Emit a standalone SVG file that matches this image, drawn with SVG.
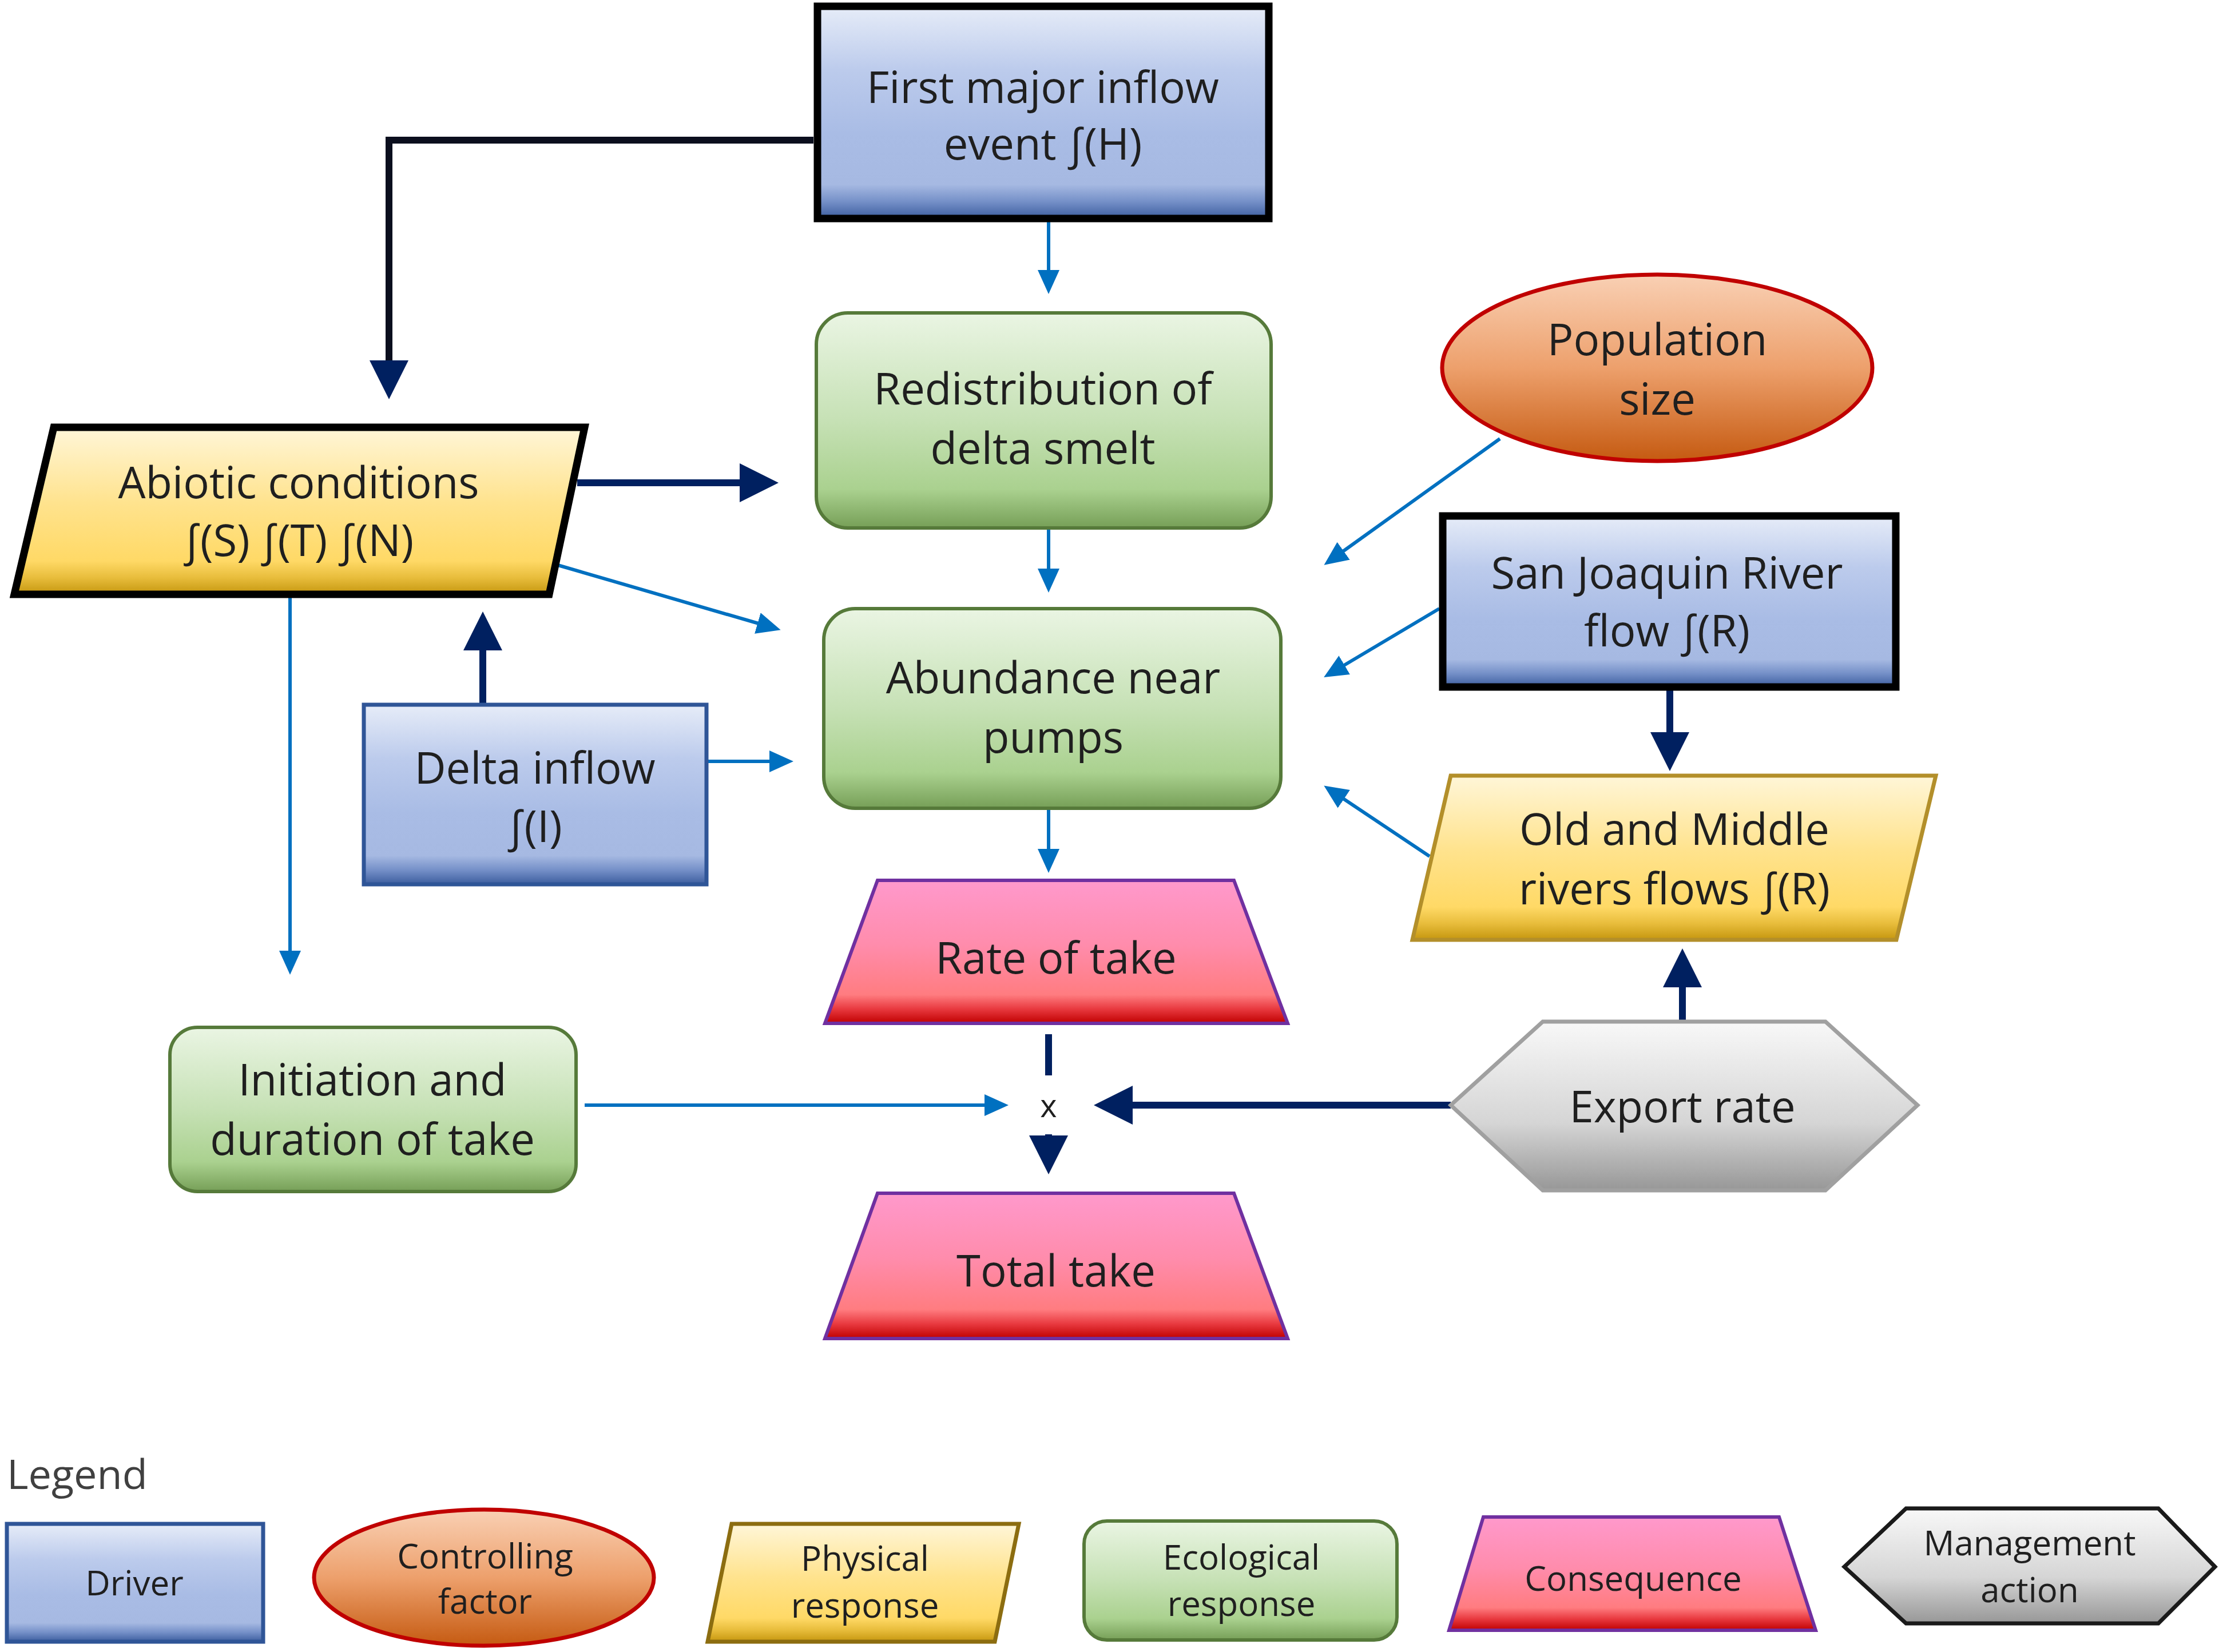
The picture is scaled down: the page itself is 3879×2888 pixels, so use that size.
<svg xmlns="http://www.w3.org/2000/svg" width="3879" height="2888" viewBox="0 0 3879 2888">
<style>
text{font-family:"Open Sans","Liberation Sans",sans-serif;fill:#1f1f1f;text-anchor:middle}
.t{font-size:76px}
.lg{font-size:60px}
.blue{stroke:#0070c0;stroke-width:6;fill:none;marker-end:url(#ab)}
.navy{stroke:#002060;stroke-width:12;fill:none;marker-end:url(#an)}
.drv{fill:url(#gBlue)}
.phy{fill:url(#gYel)}
.eco{fill:url(#gGrn);stroke:#567a3a;stroke-width:6}
.con{fill:url(#gPink);stroke:#7030a0;stroke-width:6}
.ctl{fill:url(#gOr);stroke:#c00000;stroke-width:7}
.mgt{fill:url(#gGray)}
.thick{stroke:#000;stroke-width:13}
</style>
<defs>
<linearGradient id="gBlue" x1="0" y1="0" x2="0" y2="1">
<stop offset="0" stop-color="#e6ecf8"/><stop offset="0.3" stop-color="#bccbec"/><stop offset="0.6" stop-color="#a9bce5"/><stop offset="0.84" stop-color="#a6b9e2"/><stop offset="0.92" stop-color="#7590c8"/><stop offset="1" stop-color="#3c5d9e"/>
</linearGradient>
<linearGradient id="gYel" x1="0" y1="0" x2="0" y2="1">
<stop offset="0" stop-color="#fff6d8"/><stop offset="0.45" stop-color="#ffe38e"/><stop offset="0.8" stop-color="#ffd966"/><stop offset="0.9" stop-color="#e8bd3c"/><stop offset="1" stop-color="#c5960e"/>
</linearGradient>
<linearGradient id="gGrn" x1="0" y1="0" x2="0" y2="1">
<stop offset="0" stop-color="#eaf5e3"/><stop offset="0.5" stop-color="#c6e1b5"/><stop offset="0.82" stop-color="#aad18f"/><stop offset="1" stop-color="#769f57"/>
</linearGradient>
<linearGradient id="gPink" x1="0" y1="0" x2="0" y2="1">
<stop offset="0" stop-color="#ff99cc"/><stop offset="0.45" stop-color="#ff8cac"/><stop offset="0.8" stop-color="#ff7c80"/><stop offset="0.9" stop-color="#e8393f"/><stop offset="1" stop-color="#c00000"/>
</linearGradient>
<linearGradient id="gOr" x1="0" y1="0" x2="0" y2="1">
<stop offset="0" stop-color="#f9d0b4"/><stop offset="0.5" stop-color="#eda06c"/><stop offset="1" stop-color="#c55a11"/>
</linearGradient>
<linearGradient id="gGray" x1="0" y1="0" x2="0" y2="1">
<stop offset="0" stop-color="#f8f8f8"/><stop offset="0.6" stop-color="#d5d5d5"/><stop offset="1" stop-color="#979797"/>
</linearGradient>
<marker id="ab" markerUnits="userSpaceOnUse" markerWidth="42" markerHeight="38" refX="34" refY="19" orient="auto">
<path d="M0,0 L42,19 L0,38 z" fill="#0070c0"/>
</marker>
<marker id="an" markerUnits="userSpaceOnUse" markerWidth="68" markerHeight="68" refX="53" refY="34" orient="auto">
<path d="M0,0 L68,34 L0,68 z" fill="#002060"/>
</marker>
</defs>
<rect width="3879" height="2888" fill="#ffffff"/>

<g id="connectors">
<path d="M1422,245 L680,245 L680,683" class="navy" style="stroke:#0b0f1e"/>
<path d="M1833,388 L1833,506" class="blue"/>
<path d="M1009,844 L1346,844" class="navy"/>
<path d="M972,987 L1357,1099" class="blue"/>
<path d="M507,1039 L507,1696" class="blue"/>
<path d="M844,1232 L844,1084" class="navy"/>
<path d="M1235,1331 L1379,1331" class="blue"/>
<path d="M1833,923 L1833,1028" class="blue"/>
<path d="M1833,1413 L1833,1518" class="blue"/>
<path d="M1833,1808 L1833,1880" stroke="#002060" stroke-width="12" fill="none"/>
<path d="M1833,1983 L1833,2038" class="navy"/>
<path d="M1022,1932 L1755,1932" class="blue"/>
<path d="M2536,1932 L1927,1932" class="navy"/>
<path d="M2941,1786 L2941,1673" class="navy"/>
<path d="M2919,1207 L2919,1333" class="navy"/>
<path d="M2622,767 L2321,983" class="blue"/>
<path d="M2516,1064 L2321,1180" class="blue"/>
<path d="M2499,1497 L2321,1378" class="blue"/>
<text x="1833" y="1953" style="font-size:56px">x</text>
</g>

<g id="first-inflow">
<rect x="1429" y="11" width="789" height="371" class="drv thick"/>
<text class="t" x="1823" y="180">First major inflow</text>
<text class="t" x="1823" y="279">event ∫(H)</text>
</g>

<g id="redistribution">
<rect x="1427" y="547" width="795" height="376" rx="55" class="eco"/>
<text class="t" x="1823" y="707">Redistribution of</text>
<text class="t" x="1823" y="811">delta smelt</text>
</g>

<g id="abiotic">
<polygon points="94,747 1022,747 960,1039 25,1039" class="phy thick"/>
<text class="t" x="522" y="871">Abiotic conditions</text>
<text class="t" x="522" y="972">∫(S) ∫(T) ∫(N)</text>
</g>

<g id="delta-inflow">
<rect x="636" y="1232" width="599" height="314" class="drv" stroke="#2f5597" stroke-width="7"/>
<text class="t" x="935" y="1370">Delta inflow</text>
<text class="t" x="935" y="1472">∫(I)</text>
</g>

<g id="abundance">
<rect x="1440" y="1064" width="799" height="349" rx="55" class="eco"/>
<text class="t" x="1841" y="1212">Abundance near</text>
<text class="t" x="1841" y="1316">pumps</text>
</g>

<g id="rate-of-take">
<polygon points="1534,1539 2157,1539 2251,1789 1442,1789" class="con"/>
<text class="t" x="1846" y="1702">Rate of take</text>
</g>

<g id="total-take">
<polygon points="1534,2086 2157,2086 2251,2340 1442,2340" class="con"/>
<text class="t" x="1846" y="2249">Total take</text>
</g>

<g id="initiation">
<rect x="297" y="1796" width="710" height="287" rx="48" class="eco"/>
<text class="t" x="651" y="1915">Initiation and</text>
<text class="t" x="651" y="2019">duration of take</text>
</g>

<g id="population">
<ellipse cx="2897" cy="643" rx="376" ry="163" class="ctl"/>
<text class="t" x="2897" y="621">Population</text>
<text class="t" x="2897" y="725">size</text>
</g>

<g id="san-joaquin">
<rect x="2522" y="902" width="792" height="299" class="drv thick"/>
<text class="t" x="2914" y="1029">San Joaquin River</text>
<text class="t" x="2914" y="1130">flow ∫(R)</text>
</g>

<g id="omr">
<polygon points="2536,1356 3384,1356 3315,1643 2469,1643" class="phy" stroke="#b38f2a" stroke-width="7"/>
<text class="t" x="2927" y="1477">Old and Middle</text>
<text class="t" x="2927" y="1581">rivers flows ∫(R)</text>
</g>

<g id="export-rate">
<polygon points="2536,1932 2697,1786 3191,1786 3352,1932 3191,2081 2697,2081" class="mgt" stroke="#a0a0a0" stroke-width="7"/>
<text class="t" x="2941" y="1962">Export rate</text>
</g>

<g id="legend">
<text x="12" y="2603" style="font-size:72px;text-anchor:start;fill:#404040">Legend</text>
<g id="legend-driver">
<rect x="12" y="2664" width="448" height="206" class="drv" stroke="#2f5597" stroke-width="7"/>
<text class="lg" x="235" y="2789">Driver</text>
</g>
<g id="legend-controlling">
<ellipse cx="846" cy="2758" rx="297" ry="119" class="ctl"/>
<text class="lg" x="848" y="2742">Controlling</text>
<text class="lg" x="848" y="2821">factor</text>
</g>
<g id="legend-physical">
<polygon points="1279,2664 1781,2664 1739,2870 1237,2870" class="phy" stroke="#8c6d10" stroke-width="7"/>
<text class="lg" x="1512" y="2746">Physical</text>
<text class="lg" x="1512" y="2828">response</text>
</g>
<g id="legend-ecological">
<rect x="1895" y="2659" width="547" height="208" rx="40" class="eco"/>
<text class="lg" x="2170" y="2744">Ecological</text>
<text class="lg" x="2170" y="2825">response</text>
</g>
<g id="legend-consequence">
<polygon points="2593,2652 3110,2652 3174,2850 2533,2850" class="con"/>
<text class="lg" x="2855" y="2781">Consequence</text>
</g>
<g id="legend-management">
<polygon points="3224,2739 3332,2637 3773,2637 3872,2739 3773,2838 3332,2838" class="mgt" stroke="#1a1a1a" stroke-width="7"/>
<text class="lg" x="3548" y="2719">Management</text>
<text class="lg" x="3548" y="2801">action</text>
</g>
</g>
</svg>
